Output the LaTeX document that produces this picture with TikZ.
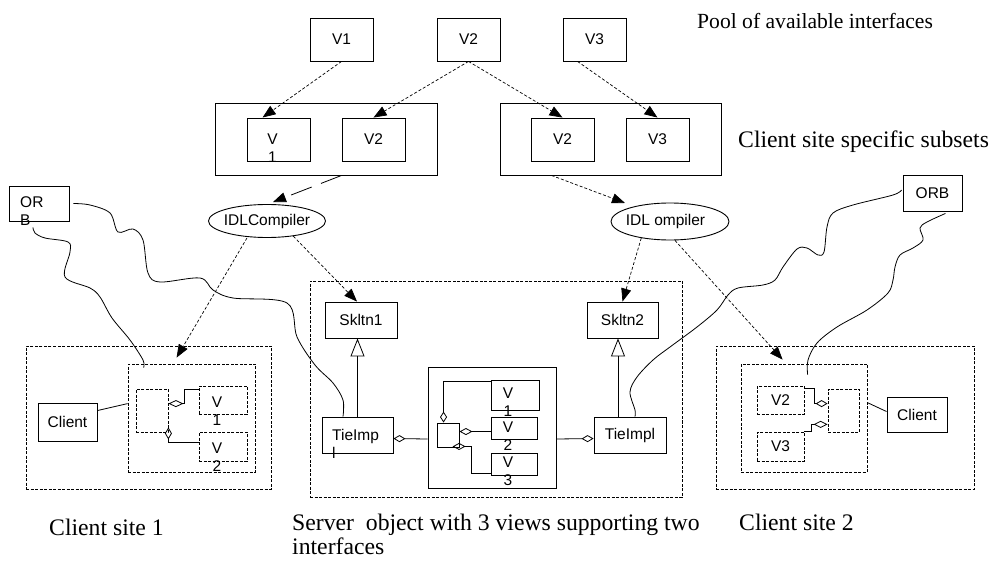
\documentclass[tikz,border=0pt]{standalone}
\usepackage{fontspec}
\setmainfont{Liberation Serif}
\newfontfamily\arialfont{Liberation Sans}
\usetikzlibrary{arrows.meta,fit,calc,shapes.geometric}

\begin{document}
\begin{tikzpicture}[x=1pt,y=-1pt,
  box/.style={draw, line width=0.9pt, inner sep=0pt},
  dbox/.style={draw, line width=0.8pt, dash pattern=on 3pt off 1.5pt, inner sep=0pt},
  oval/.style={draw, ellipse, line width=0.9pt, inner sep=0pt},
  lbl/.style={font=\arialfont\fontsize{15.5}{18}\selectfont, inner sep=0pt, align=center},
  lbll/.style={font=\arialfont\fontsize{15.5}{18}\selectfont, inner sep=0pt, align=left, anchor=west},
  caption/.style={font=\fontsize{23.7}{28}\selectfont, inner sep=0pt, anchor=base west},
  tipshape/.style={-{Triangle[length=13pt,width=10pt]}},
  dep/.style={line width=0.7pt, dash pattern=on 3pt off 2pt, tipshape},
  longdep/.style={line width=0.8pt, dash pattern=on 22pt off 10pt, tipshape},
  agg/.style={line width=0.8pt, {Diamond[open,length=#1,width=7pt]}-},
  agg/.default=14pt,
  gen/.style={line width=0.8pt, -{Triangle[open,length=18pt,width=14pt]}},
  plain/.style={line width=0.8pt},
  wire/.style={line width=0.8pt},
]
\useasboundingbox (0,0) rectangle (991,561);

% ---- pool of interfaces ----
\node[box, fit={(310,18)(373,61)}] (pv1) {};
\node[box, fit={(437,18)(500,61)}] (pv2) {};
\node[box, fit={(563,18)(626,61)}] (pv3) {};
\node[lbl] (tpv1) at (pv1.center) {V1};
\node[lbl] (tpv2) at (pv2.center) {V2};
\node[lbl] (tpv3) at (pv3.center) {V3};

% ---- client specific subsets ----
\node[box, fit={(215,103)(437,175)}] (ga) {};
\node[box, fit={(247,118)(310,161)}] (ga1) {};
\node[box, fit={(342,118)(405,161)}] (ga2) {};
\node[lbl] (tga1) at (272.5,148.5) {V\\1};
\node[lbl] (tga2) at (ga2.center) {V2};

\node[box, fit={(500,103)(721,175)}] (gb) {};
\node[box, fit={(531,118)(594,161)}] (gb2) {};
\node[box, fit={(626,118)(689,161)}] (gb3) {};
\node[lbl] (tgb2) at (gb2.center) {V2};
\node[lbl] (tgb3) at (gb3.center) {V3};

% ---- compilers ----
\node[oval, minimum width=117pt, minimum height=33pt] (idl1) at (267,221) {};
\node[lbl] (tidl1) at (idl1.center) {IDLCompiler};
\node[oval, minimum width=118pt, minimum height=37pt] (idl2) at (670,221.5) {};
\node[lbl] (tidl2) at (665.5,221.5) {IDL ompiler};

% ---- ORBs ----
\node[box, fit={(9,186)(69,221)}] (orb1) {};
\node[lbll] (torb1) at (20,211.5) {OR\\B};
\node[box, fit={(903,175)(962,211)}] (orb2) {};
\node[lbl] (torb2) at (orb2.center) {ORB};

% ---- client site 1 ----
\node[dbox, fit={(26,346)(271,489)}] (c1out) {};
\node[dbox, fit={(128,364)(255,472)}] (c1in) {};
\node[box, fit={(38,403)(97,441)}] (c1cl) {};
\node[lbl] (tc1cl) at (c1cl.center) {Client};
\node[dbox, fit={(136,389)(168,432)}] (c1sq) {};
\node[dbox, fit={(199,386)(247,414)}] (c1v1) {};
\node[dbox, fit={(199,432)(247,461)}] (c1v2) {};
\node[lbl] (tc1v1) at (217,411.5) {V\\1};
\node[lbl] (tc1v2) at (217,457.5) {V\\2};

% ---- server object ----
\node[dbox, fit={(310,281)(682,497)}] (srv) {};
\node[box, fit={(325,302)(397,338)}] (sk1) {};
\node[box, fit={(587,302)(658,338)}] (sk2) {};
\node[lbl] (tsk1) at (sk1.center) {Skltn1};
\node[lbl] (tsk2) at (sk2.center) {Skltn2};
\node[box, fit={(322,417)(393,453)}] (tie1) {};
\node[lbll] (ttie1) at (332,443.5) {TieImp\\l};
\node[box, fit={(594,417)(666,453)}] (tie2) {};
\node[lbl] (ttie2) at (tie2.center) {TieImpl};
\node[box, fit={(428,367)(556,488)}] (mbox) {};
\node[box, fit={(437,423)(459,447)}] (msq) {};
\node[box, fit={(491,380)(539,410)}] (sv1) {};
\node[box, fit={(491,417)(537,439)}] (sv2) {};
\node[box, fit={(491,453)(537,475)}] (sv3) {};
\node[lbl] (tsv1) at (508,402.5) {V\\1};
\node[lbl] (tsv2) at (508,436.5) {V\\2};
\node[lbl] (tsv3) at (508,471.5) {V\\3};

% ---- client site 2 ----
\node[dbox, fit={(716,346)(974,489)}] (c2out) {};
\node[dbox, fit={(741,364)(867,472)}] (c2in) {};
\node[dbox, fit={(757,386)(804,414)}] (c2v2) {};
\node[dbox, fit={(757,432)(804,461)}] (c2v3) {};
\node[lbl] (tc2v2) at (c2v2.center) {V2};
\node[lbl] (tc2v3) at (c2v3.center) {V3};
\node[dbox, fit={(828,389)(859,432)}] (c2sq) {};
\node[box, fit={(887,397)(947,432)}] (c2cl) {};
\node[lbl] (tc2cl) at (c2cl.center) {Client};

% ---- captions ----
\node[caption, font=\fontsize{21.6}{26}\selectfont] (cpool) at (697,29) {Pool of available interfaces};
\node[caption] (csub) at (738,148) {Client site specific subsets};
\node[caption] (csite1) at (49,535) {Client site 1};
\node[caption] (cserver1) at (292,530) {Server\ \ object with 3 views supporting two};
\node[caption] (cserver2) at (292,554) {interfaces};
\node[caption] (csite2) at (739,530) {Client site 2};

% ---- pool to subsets ----
\draw[dep] (pv1.south) -- ([xshift=16pt]ga1.north west);
\draw[dep] (pv2.south) -- (ga2.north);
\draw[dep] (pv2.south) -- (gb2.north);
\draw[dep] ([xshift=15pt]pv3.south west) -- (gb3.north);

% ---- subsets to compilers ----
\draw[longdep] ([xshift=127pt]ga.south west) -- ([xshift=6pt,yshift=2pt]idl1.north);
\draw[dep] ([xshift=52pt]gb.south west) -- ([xshift=-45pt,yshift=18.5pt]idl2.center);

% ---- compilers to skeletons and client stubs ----
\draw[dep] ([xshift=-20pt]idl1.south) -- ([xshift=49pt,yshift=6pt]c1in.north west);
\draw[dep] (idl1.-30) -- ([xshift=-4pt]sk1.north);
\draw[dep] (idl2.-150) -- (sk2.north);
\draw[dep] ([xshift=5pt]idl2.south) -- ([xshift=42pt,yshift=4pt]c2in.north west);

% ---- inheritance ----
\draw[gen] (tie1.north) -- (tie1.north |- sk1.south);
\draw[gen] ([xshift=-12pt]tie2.north) -- ($(sk2.south)+(-4.5,0)$);

% ---- aggregations ----
\draw[agg=15pt] ([yshift=-15pt]c1sq.north east) -- ++(16,0) |- ([yshift=-4pt]c1v1.north west);
\draw[agg=12pt] ([yshift=5pt]c1sq.south east) |- ([yshift=-11pt]c1v2.north west);

\draw[agg=11pt] ([xshift=7pt]msq.north west) |- ([yshift=-2pt]sv1.north west);
\draw[agg=13pt] ([yshift=-9pt]msq.north east) -- ([yshift=-15pt]sv2.north west);
\draw[agg=13pt] ([xshift=16pt,yshift=1pt]msq.south west) -- ++(19,0) |- ([yshift=2pt]sv3.south west);
\draw[agg=12pt] ([yshift=-22pt]tie1.north east) -- ($(mbox.west)+(0,11.5)$);
\draw[agg=12pt] ([yshift=-22pt]tie2.north west) -- ($(mbox.east)+(0,11.5)$);

\draw[agg=12pt] ([yshift=-15pt]c2sq.north west) -- ++(-13,0) |- ([yshift=-3pt]c2v2.north east);
\draw[agg=14pt] ([yshift=8pt]c2sq.south west) -- ++(-16,0) |- (c2v3.north east);

% ---- client links ----
\draw[plain] ([yshift=-8pt]c1cl.north east) -- ([yshift=-40pt]c1in.north west);
\draw[plain] ([yshift=-39pt]c2in.north east) -- ([yshift=-15pt]c2cl.north west);

% ---- ORB wires ----
\draw[wire] plot[smooth, tension=0.55] coordinates {([xshift=4pt]orb1.east) (90,205) (110,213) (118,232) (133,229) (143,240) (148,273) (160,282) (200,278) (213,290) (233,298) (287,303) (297,337) (315,365) (333,383) (343,400) ([xshift=-14.5pt]tie1.north)};
\draw[wire] plot[smooth, tension=0.55] coordinates {([xshift=-6pt,yshift=-6pt]orb1.south) (35,233) (45,238) (68,242) (70,252) (65,277) (90,288) (100,297) (112,318) (130,340) (143,360) ([xshift=16pt,yshift=-4pt]c1in.north west)};
\draw[wire] plot[smooth, tension=0.55] coordinates {([xshift=-1pt,yshift=3pt]orb2.west) (893,195) (853,205) (833,213) (827,227) (824,252) (818,255) (807,248) (797,249) (783,267) (775,280) (763,285) (738,288) (728,295) (717,310) (697,327) (670,347) (653,360) (637,377) (630,392) (635,410) ([xshift=5pt]tie2.north)};
\draw[wire] plot[smooth, tension=0.55] coordinates {([xshift=-17pt,yshift=-2pt]orb2.south east) (927,222) (920,228) (923,240) (913,248) (900,255) (895,267) (893,280) (888,293) (867,310) (837,327) (817,343) (808,360) ([xshift=67pt,yshift=-11pt]c2in.north west)};
\end{tikzpicture}
\end{document}
